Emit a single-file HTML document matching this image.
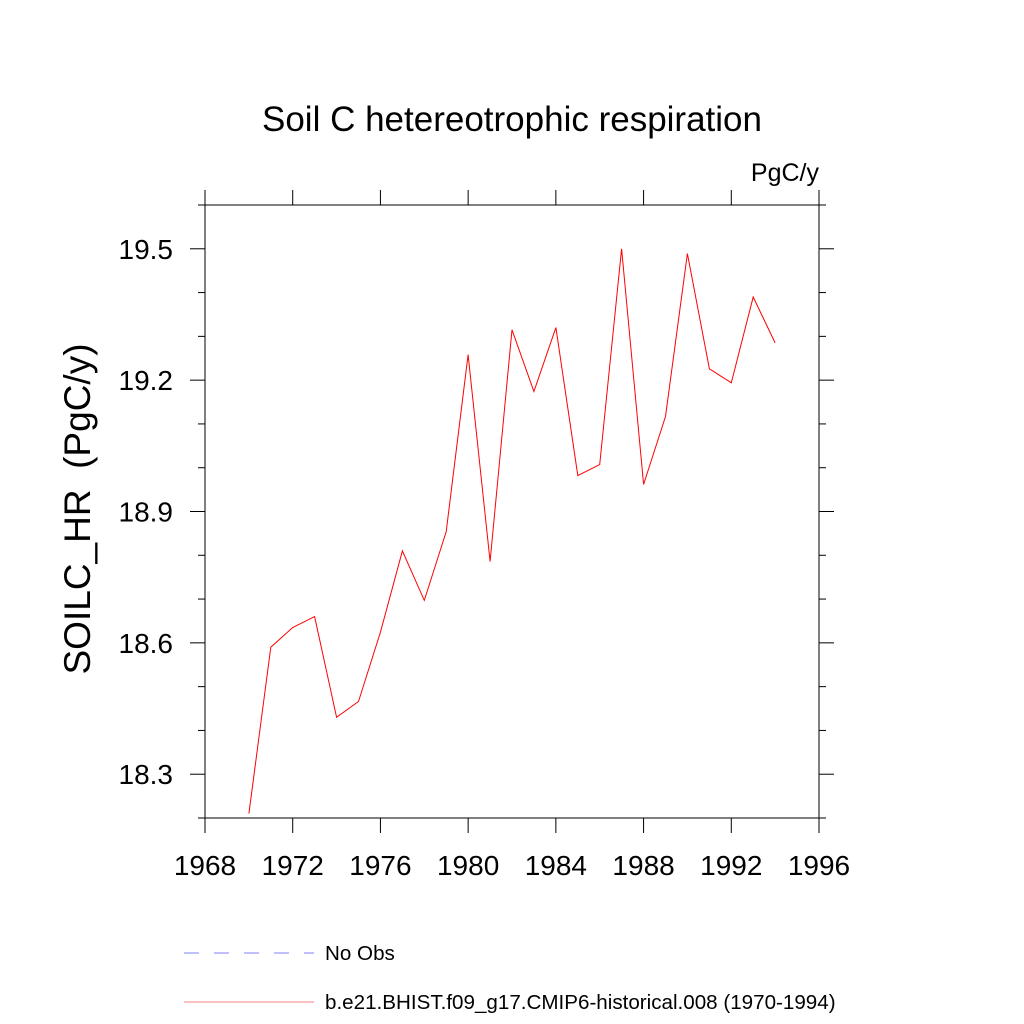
<!DOCTYPE html>
<html><head><meta charset="utf-8"><style>
html,body{margin:0;padding:0;background:#fff;}
svg{display:block;font-family:"Liberation Sans",sans-serif;}
</style></head><body>
<svg id="chart" width="1024" height="1024" viewBox="0 0 1024 1024">
<text x="512" y="131" font-size="35" text-anchor="middle">Soil C hetereotrophic respiration</text>
<text x="819" y="181" font-size="25" text-anchor="end">PgC/y</text>
<text transform="translate(90,509) rotate(-90)" font-size="37" text-anchor="middle" xml:space="preserve">SOILC_HR  (PgC/y)</text>
<g id="axes"></g>
<g id="series"></g>
<g>
<line x1="184" y1="953" x2="314" y2="953" stroke="#8080ff" stroke-width="1" stroke-dasharray="15,15"/>
<text x="325" y="960" font-size="20.6">No Obs</text>
<line x1="184" y1="1002" x2="314" y2="1002" stroke="#f08080" stroke-width="1"/>
<text x="325" y="1009" font-size="20.6">b.e21.BHIST.f09_g17.CMIP6-historical.008 (1970-1994)</text>
</g>
</svg>
<script>
const years=[1970,1971,1972,1973,1974,1975,1976,1977,1978,1979,1980,1981,1982,1983,1984,1985,1986,1987,1988,1989,1990,1991,1992,1993,1994];
const values=[18.21,18.59,18.635,18.66,18.43,18.466,18.624,18.81,18.697,18.854,19.258,18.786,19.315,19.174,19.32,18.982,19.007,19.5,18.962,19.117,19.489,19.226,19.194,19.39,19.285];
const xTickLabels=["1968","1972","1976","1980","1984","1988","1992","1996"];
const yTickLabels=["18.3","18.6","18.9","19.2","19.5"];
const L=205,R=819,T=205,B=818,X0=1968,X1=1996,Y0=18.2,Y1=19.6;
const sx=v=>L+(v-X0)/(X1-X0)*(R-L);
const sy=v=>B-(v-Y0)/(Y1-Y0)*(B-T);
const NS='http://www.w3.org/2000/svg';
const axes=document.getElementById('axes');
function mk(tag,attrs,parent){const e=document.createElementNS(NS,tag);for(const k in attrs)e.setAttribute(k,attrs[k]);parent.appendChild(e);return e;}
const frame=mk('rect',{x:L,y:T,width:R-L,height:B-T,fill:'none',stroke:'#000','stroke-width':1},axes);


xTickLabels.forEach(t=>{const v=+t,x=sx(v);
 const a=mk('line',{x1:x,y1:B,x2:x,y2:B+15,stroke:'#000'},axes);
 
 
 const b=mk('line',{x1:x,y1:T,x2:x,y2:T-15,stroke:'#000'},axes);
 
 
 const tx=mk('text',{x:x,y:875,'font-size':28,'text-anchor':'middle'},axes);tx.textContent=t;
 
 
});
for(let i=0;i<=14;i++){const v=Y0+i*0.1,y=sy(v);const major=yTickLabels.some(s=>Math.abs(+s-v)<1e-6);const len=major?15:7;
 const a=mk('line',{x1:L,y1:y,x2:L-len,y2:y,stroke:'#000'},axes);
 
 
 const b=mk('line',{x1:R,y1:y,x2:R+len,y2:y,stroke:'#000'},axes);
 
 
}
yTickLabels.forEach(t=>{const y=sy(+t);
 const tx=mk('text',{x:173,y:y+10,'font-size':28,'text-anchor':'end'},axes);tx.textContent=t;
 
 
});
const pts=years.map((yr,i)=>sx(yr).toFixed(1)+','+sy(values[i]).toFixed(1)).join(' ');
const line=mk('polyline',{points:pts,fill:'none',stroke:'#ff0000','stroke-width':1},document.getElementById('series'));


</script>
</body></html>
